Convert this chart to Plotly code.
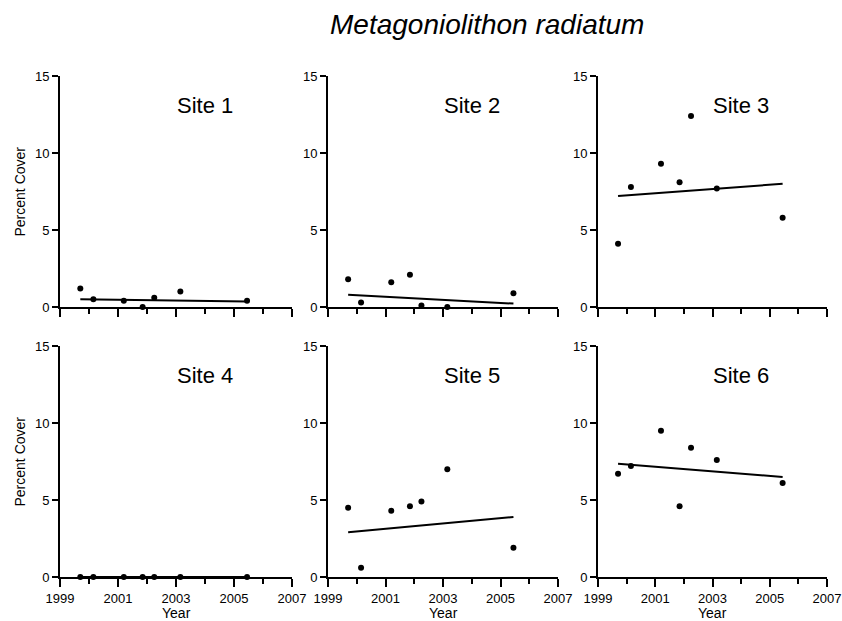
import plotly.graph_objects as go

# ---- data ----
years = [1999.7, 2000.15, 2001.2, 2001.85, 2002.25, 2003.15, 2005.45]
site_names = ["Site 1", "Site 2", "Site 3", "Site 4", "Site 5", "Site 6"]
site1 = [1.2, 0.5, 0.4, 0.0, 0.6, 1.0, 0.4]
site2 = [1.8, 0.3, 1.6, 2.1, 0.1, 0.0, 0.9]
site3 = [4.1, 7.8, 9.3, 8.1, 12.4, 7.7, 5.8]
site4 = [0.0, 0.0, 0.0, 0.0, 0.0, 0.0, 0.0]
site5 = [4.5, 0.6, 4.3, 4.6, 4.9, 7.0, 1.9]
site6 = [6.7, 7.2, 9.5, 4.6, 8.4, 7.6, 6.1]
site_values = [site1, site2, site3, site4, site5, site6]
# regression line end values (at first and last sample year)
fit_start = [0.5, 0.8, 7.2, 0.0, 2.9, 7.35]
fit_end = [0.35, 0.22, 8.0, 0.0, 3.9, 6.5]
x_ticks = [1999, 2001, 2003, 2005, 2007]
y_ticks = [0, 5, 10, 15]

W, H = 842, 621
col_px = [(60, 292), (328, 558), (598, 827)]
row_px = [(76, 307), (346, 577)]

FONT = "Liberation Sans, Arial, sans-serif"
fig = go.Figure()
layout = dict(
    width=W, height=H,
    margin=dict(l=0, r=0, t=0, b=0),
    paper_bgcolor="white", plot_bgcolor="white",
    showlegend=False,
    font=dict(family=FONT, color="black", size=13),
)
annotations = []

for i in range(6):
    r, c = divmod(i, 3)
    n = i + 1
    xa = "x" if n == 1 else f"x{n}"
    ya = "y" if n == 1 else f"y{n}"
    fig.add_trace(go.Scatter(
        x=[years[0], years[-1]], y=[fit_start[i], fit_end[i]],
        mode="lines", line=dict(color="black", width=2),
        xaxis=xa, yaxis=ya, cliponaxis=False, hoverinfo="skip"))
    fig.add_trace(go.Scatter(
        x=years, y=site_values[i], mode="markers",
        marker=dict(color="black", size=6),
        xaxis=xa, yaxis=ya, cliponaxis=False))
    x0, x1 = col_px[c]
    y0, y1 = row_px[r]
    layout[f"xaxis{'' if n == 1 else n}"] = dict(
        domain=[x0 / W, x1 / W], anchor=ya, range=[1999, 2007],
        automargin=False,
        showline=True, linecolor="black", linewidth=2,
        showgrid=False, zeroline=False,
        ticks="outside", ticklen=8, tickwidth=2, tickcolor="black",
        tickvals=x_ticks, showticklabels=(r == 1),
        tickfont=dict(size=13, family=FONT, color="black"),
        minor=dict(ticks="outside", ticklen=5, tickwidth=2, tickcolor="black",
                   dtick=1, tick0=1999, showgrid=False),
    )
    layout[f"yaxis{'' if n == 1 else n}"] = dict(
        domain=[1 - y1 / H, 1 - y0 / H], anchor=xa, range=[0, 15],
        automargin=False,
        showline=True, linecolor="black", linewidth=2,
        showgrid=False, zeroline=False,
        ticks="outside", ticklen=6, tickwidth=2, tickcolor="black",
        tickvals=y_ticks,
        tickfont=dict(size=13, family=FONT, color="black"),
    )
    annotations.append(dict(
        x=2004.0, y=13.1, xref=xa, yref=ya, text=site_names[i],
        showarrow=False, font=dict(size=22, family=FONT, color="black"),
        xanchor="center", yanchor="middle"))
    if r == 1:
        annotations.append(dict(
            x=(x0 + x1) / 2 / W, y=1 - 613 / H, xref="paper", yref="paper",
            text="Year", showarrow=False,
            font=dict(size=14, family=FONT, color="black"),
            xanchor="center", yanchor="middle"))
    if c == 0:
        annotations.append(dict(
            x=19 / W, y=1 - (y0 + y1) / 2 / H, xref="paper", yref="paper",
            text="Percent Cover", showarrow=False, textangle=-90,
            font=dict(size=14, family=FONT, color="black"),
            xanchor="center", yanchor="middle"))

annotations.append(dict(
    x=487 / W, y=1 - 25 / H, xref="paper", yref="paper",
    text="<i>Metagoniolithon radiatum</i>", showarrow=False,
    font=dict(size=28, family=FONT, color="black"),
    xanchor="center", yanchor="middle"))
layout["annotations"] = annotations
fig.update_layout(**layout)
fig.write_html("out.html")
